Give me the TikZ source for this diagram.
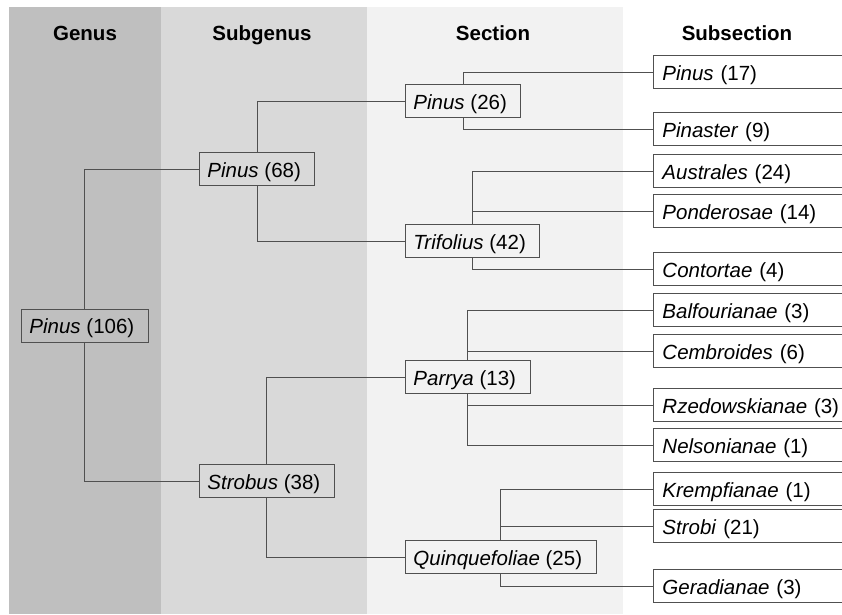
\documentclass[tikz,border=0pt]{standalone}
\usepackage{fontspec}
\setmainfont{Liberation Sans}
\definecolor{genusgray}{HTML}{BFBFBF}
\definecolor{subgenusgray}{HTML}{D9D9D9}
\definecolor{sectiongray}{HTML}{F2F2F2}
\definecolor{linegray}{HTML}{505050}
\begin{document}
\begin{tikzpicture}[x=1pt, y=-1pt,
      every node/.style={font=\fontsize{20.5}{24}\selectfont, text height=16pt, text depth=0pt},
      taxon/.style={draw=linegray, line width=0.9pt, anchor=west, minimum height=33pt, inner ysep=2pt, inner xsep=8pt, execute at end node=\hspace{6pt}},
      subtaxon/.style={draw=linegray, line width=0.9pt, fill=white, anchor=west, minimum height=33pt, inner ysep=2pt, inner xsep=9pt, text width=200pt, align=left},
      head/.style={font=\fontsize{20.5}{24}\selectfont\bfseries, anchor=base},
      link/.style={draw=linegray, line width=0.9pt}
    ]
    
    \clip (0,0) rectangle (842,614);
    
    % Rank bands
    \fill[genusgray] (9,7) rectangle (161,614);
    \fill[subgenusgray] (161,7) rectangle (367,614);
    \fill[sectiongray] (367,7) rectangle (623,614);
    
    % Rank headers
    \node[head] (hG) at (85,40) {Genus};
    \node[head] (hSG) at (262,40) {Subgenus};
    \node[head] (hS) at (493,40) {Section};
    \node[head] (hSS) at (737,40) {Subsection};
    
    % Genus and subgenera
    \node[taxon] (g) at (21,325.5) {\textit{Pinus} (106)};
    \node[taxon] (sg1) at (199,169) {\textit{Pinus} (68)};
    \node[taxon] (sg2) at (199,481) {\textit{Strobus} (38)};
    
    % Sections
    \node[taxon] (s1) at (405,101) {\textit{Pinus} (26)};
    \node[taxon] (s2) at (405,241) {\textit{Trifolius} (42)};
    \node[taxon] (s3) at (405,377) {\textit{Parrya} (13)};
    \node[taxon] (s4) at (405,557) {\textit{Quinquefoliae} (25)};
    
    % Subsections
    \foreach \name/\num/\y [count=\i] in {Pinus/17/72, Pinaster/9/129, Australes/24/171,
        Ponderosae/14/211, Contortae/4/269, Balfourianae/3/310, Cembroides/6/351,
        Rzedowskianae/3/405, Nelsonianae/1/445, Krempfianae/1/489, Strobi/21/526, Geradianae/3/586} {
      \node[subtaxon] (ss\i) at (653,\y) {\textit{\name} (\num)};
    }
    
    % Links
    \draw[link] (g.north) |- (sg1.west);
    \draw[link] (g.south) |- (sg2.west);
    \draw[link] (sg1.north) |- (s1.west);
    \draw[link] (sg1.south) |- (s2.west);
    \draw[link] (sg2.north) |- (s3.west);
    \draw[link] (sg2.south) |- (s4.west);
    \foreach \s/\t in {s1.north/ss1, s1.south/ss2, s2.north/ss3, s2.north/ss4, s2.south/ss5,
        s3.north/ss6, s3.north/ss7, s3.south/ss8, s3.south/ss9,
        s4.north/ss10, s4.north/ss11, s4.south/ss12} {
      \draw[link] (\s) |- (\t.west);
    }
    
    \end{tikzpicture}
\end{document}
